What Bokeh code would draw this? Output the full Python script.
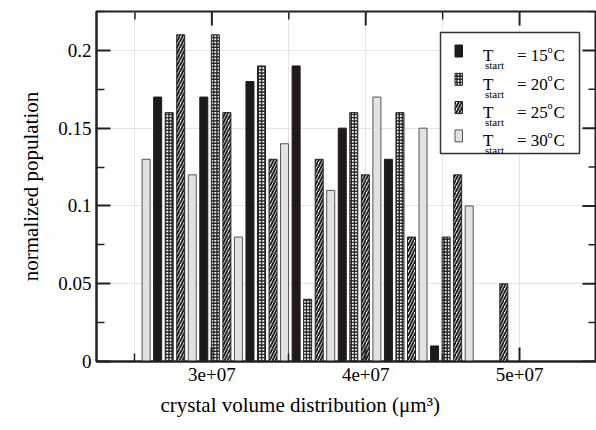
from bokeh.plotting import figure
from bokeh.models import Range1d, FixedTicker, LinearAxis, ColumnDataSource, Title
from bokeh.transform import dodge
from bokeh.core.properties import value
from bokeh.embed import file_html
from bokeh.resources import INLINE

# ---------------- data ----------------
bin_centers = [26.85e6, 29.85e6, 32.85e6, 35.85e6, 38.85e6, 41.85e6, 44.85e6, 47.85e6]
pop_15 = [0.17, 0.17, 0.18, 0.19, 0.15, 0.13, 0.01, 0.0]
pop_20 = [0.16, 0.21, 0.19, 0.04, 0.16, 0.16, 0.08, 0.0]
pop_25 = [0.21, 0.16, 0.13, 0.13, 0.12, 0.08, 0.12, 0.05]
pop_30 = [0.13, 0.12, 0.08, 0.14, 0.11, 0.17, 0.15, 0.10]
series_temps = ["15", "20", "25", "30"]
x_ticks = [3e7, 4e7, 5e7]
x_tick_labels = ["3e+07", "4e+07", "5e+07"]
x_minor = [2.5e7, 3.5e7, 4.5e7, 5.5e7]
y_ticks = [0, 0.05, 0.1, 0.15, 0.2]
y_tick_labels = ["0", "0.05", "0.1", "0.15", "0.2"]
y_minor = [0.025, 0.075, 0.125, 0.175, 0.225]
x_title = "crystal volume distribution (\u03bcm\u00b3)"
y_title = "normalized population"

FONT = "Liberation Serif"
XMIN, XMAX = 2.25e7, 5.5e7
YMIN, YMAX = 0.0, 0.225
FL, FR, FT, FB = 96.0, 596.0, 11.0, 361.0  # frame in page pixels
INK = "#222222"

p = figure(width=596, height=430, x_range=Range1d(XMIN, XMAX), y_range=Range1d(YMIN, YMAX),
           output_backend="svg", toolbar_location=None,
           x_axis_location=None, y_axis_location=None,
           min_border_left=96, min_border_right=0, min_border_top=11, min_border_bottom=69)
p.outline_line_color = INK
p.outline_line_width = 2
p.background_fill_color = "white"
p.border_fill_color = "white"

def px_w(n):  # pixel length -> x data length
    return n / (FR - FL) * (XMAX - XMIN)

def px_h(n):  # pixel length -> y data length
    return n / (FB - FT) * (YMAX - YMIN)

def dx(px):
    return XMIN + px_w(px - FL)

def dy(py):
    return YMIN + px_h(FB - py)

def style_axis(ax):
    ax.axis_line_width = 2
    ax.axis_line_color = INK
    ax.major_tick_in = 14
    ax.major_tick_out = 0
    ax.minor_tick_in = 8
    ax.minor_tick_out = 0
    ax.major_tick_line_width = 2
    ax.minor_tick_line_width = 1.5
    ax.major_tick_line_color = INK
    ax.minor_tick_line_color = INK
    ax.major_label_text_font = FONT
    ax.major_label_text_font_size = "19px"
    ax.major_label_text_color = "black"
    ax.axis_label_text_font = FONT
    ax.axis_label_text_font_size = "21px"
    ax.axis_label_text_font_style = "normal"
    ax.axis_label_text_color = "black"

xb = LinearAxis(ticker=FixedTicker(ticks=x_ticks, minor_ticks=x_minor),
                major_label_overrides=dict(zip(x_ticks, x_tick_labels)))
style_axis(xb)
xb.major_label_standoff = 6
p.add_layout(xb, "below")

# x-axis title, placed in the bottom panel under the tick labels
p.add_layout(Title(text=x_title, align="left", offset=64, standoff=14,
                   text_font=FONT, text_font_size="21px", text_font_style="normal",
                   text_color="black"), "below")

yl = LinearAxis(ticker=FixedTicker(ticks=y_ticks, minor_ticks=y_minor),
                major_label_overrides=dict(zip(y_ticks, y_tick_labels)),
                axis_label=y_title)
style_axis(yl)
yl.major_label_standoff = 5
yl.axis_label_standoff = 12
p.add_layout(yl, "left")

# mirrored tick marks on the top and right edges (from the tick arrays)
p.segment(x0=x_ticks, x1=x_ticks, y0=[YMAX] * len(x_ticks), y1=[YMAX - px_h(14)] * len(x_ticks),
          line_color=INK, line_width=2)
p.segment(x0=x_minor, x1=x_minor, y0=[YMAX] * len(x_minor), y1=[YMAX - px_h(8)] * len(x_minor),
          line_color=INK, line_width=1.5)
p.segment(x0=[XMAX] * len(y_ticks), x1=[XMAX - px_w(14)] * len(y_ticks), y0=y_ticks, y1=y_ticks,
          line_color=INK, line_width=2)
p.segment(x0=[XMAX] * len(y_minor), x1=[XMAX - px_w(8)] * len(y_minor), y0=y_minor, y1=y_minor,
          line_color=INK, line_width=1.5)

# ---------------- bars ----------------
bar_w = 0.52e6
step = 0.75e6
styles = {
    "30": dict(offset=-1.5 * step, fill_color="#e2e2e2", line_color="#555555", hatch=None),
    "15": dict(offset=-0.5 * step, fill_color="#1e1a1a", line_color="#1e1a1a", hatch=None),
    "20": dict(offset=0.5 * step, fill_color="white", line_color=INK, hatch="cross"),
    "25": dict(offset=1.5 * step, fill_color="white", line_color=INK, hatch="right_diagonal_line"),
}
series_vals = {"15": pop_15, "20": pop_20, "25": pop_25, "30": pop_30}

def hatch_kw(h):
    if h == "cross":
        return dict(hatch_pattern="cross", hatch_color=INK, hatch_scale=3.2, hatch_weight=1.6)
    if h:
        return dict(hatch_pattern=h, hatch_color=INK, hatch_scale=6, hatch_weight=2.0)
    return {}

for t in series_temps:
    vals = series_vals[t]
    xs = [c for c, v in zip(bin_centers, vals) if v > 0]
    ys = [v for v in vals if v > 0]
    src = ColumnDataSource(dict(x=xs, top=ys))
    st = styles[t]
    p.vbar(x=dodge("x", st["offset"]), top="top", bottom=0, width=bar_w, source=src,
           fill_color=st["fill_color"], line_color=st["line_color"], line_width=1,
           **hatch_kw(st["hatch"]))

# ---------------- legend (drawn manually) ----------------
p.quad(left=[dx(440)], right=[dx(579)], top=[dy(32)], bottom=[dy(153)],
       fill_color="white", line_color="#333333", line_width=1.5)

row_y = [50.5, 78.8, 107.1, 135.4]
for i, t in enumerate(series_temps):
    st = styles[t]
    cy = row_y[i]
    p.quad(left=[dx(454.5)], right=[dx(462)], top=[dy(cy - 6)], bottom=[dy(cy + 6)],
           fill_color=st["fill_color"], line_color=st["line_color"], line_width=1,
           **hatch_kw(st["hatch"]))
    base = cy + 4.8
    common = dict(text_font=value(FONT), text_baseline="alphabetic", text_align="left", text_color="black")
    p.text(x=[dx(482.5)], y=[dy(base)], text=["T"], text_font_size="17px", **common)
    p.text(x=[dx(484.5)], y=[dy(base + 9.5)], text=["start"], text_font_size="11px", **common)
    p.text(x=[dx(516.5)], y=[dy(base)], text=["= " + t], text_font_size="17px", **common)
    p.text(x=[dx(547)], y=[dy(base - 6.5)], text=["o"], text_font_size="10px", **common)
    p.text(x=[dx(553)], y=[dy(base)], text=["C"], text_font_size="17px", **common)

open("out.html", "w").write(file_html(p, INLINE))
